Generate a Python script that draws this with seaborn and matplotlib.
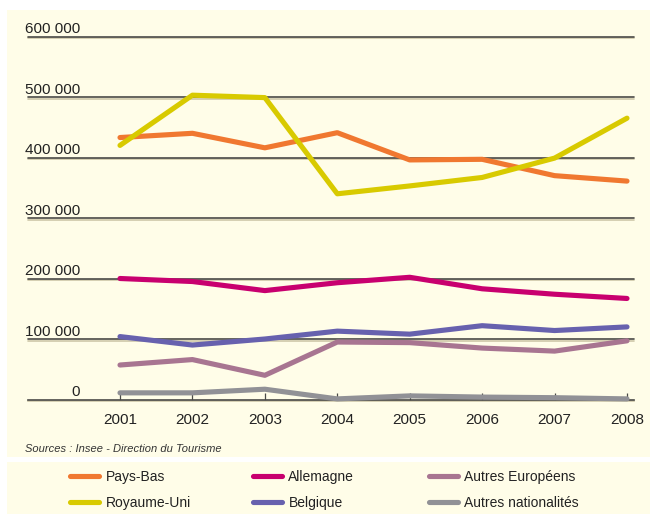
import numpy as np
import pandas as pd
import matplotlib
matplotlib.use("Agg")
import matplotlib.pyplot as plt
import matplotlib.patheffects as pe
from matplotlib.patches import Rectangle
import seaborn as sns

# ---------------- data ----------------
years = [2001, 2002, 2003, 2004, 2005, 2006, 2007, 2008]
series_names = ["Pays-Bas", "Royaume-Uni", "Allemagne", "Belgique",
                "Autres Européens", "Autres nationalités"]
pays_bas = [433000, 440000, 416000, 441000, 396000, 397000, 370000, 361000]
royaume_uni = [420000, 503000, 499000, 340000, 353000, 367000, 399000, 465000]
allemagne = [200000, 195000, 180000, 193000, 202000, 183000, 174000, 167000]
belgique = [104000, 90000, 100000, 113000, 108000, 122000, 114000, 120000]
autres_europeens = [57000, 66000, 40000, 95000, 94000, 85000, 80000, 97000]
autres_nationalites = [11000, 11000, 17000, 1000, 6000, 4000, 3000, 1000]
y_ticks = [0, 100000, 200000, 300000, 400000, 500000, 600000]
y_tick_labels = ["0", "100 000", "200 000", "300 000", "400 000", "500 000", "600 000"]
source_text = "Sources : Insee - Direction du Tourisme"

colors = {
    "Pays-Bas": "#F07830",
    "Royaume-Uni": "#D8CA00",
    "Allemagne": "#C8006F",
    "Belgique": "#6761AE",
    "Autres Européens": "#A87591",
    "Autres nationalités": "#919196",
}

values = [pays_bas, royaume_uni, allemagne, belgique, autres_europeens, autres_nationalites]
df = pd.DataFrame({
    "Année": np.tile(years, len(series_names)),
    "Nuitées": np.concatenate(values),
    "Nationalité": np.repeat(series_names, len(years)),
})

# ---------------- figure ----------------
sns.set_theme(style="white")
plt.rcParams["font.family"] = ["Liberation Sans", "DejaVu Sans"]

W, H = 650, 514
fig = plt.figure(figsize=(W / 100, H / 100), dpi=100)
fig.patch.set_facecolor("white")
cream = "#FFFDE8"


def panel(x0, y0, x1, y1):
    fig.patches.append(Rectangle((x0 / W, 1 - y1 / H), (x1 - x0) / W, (y1 - y0) / H,
                                 transform=fig.transFigure, facecolor=cream,
                                 edgecolor="none", zorder=-5))


panel(7, 10, 650, 457)
panel(7, 462, 650, 514)

ax_left, ax_right = 28, 634
y_zero, y_top_ax = 399.5, 30
ax = fig.add_axes([ax_left / W, 1 - y_zero / H, (ax_right - ax_left) / W, (y_zero - y_top_ax) / H])
ax.set_facecolor("none")
ax.set_zorder(2)

sns.lineplot(data=df, x="Année", y="Nuitées", hue="Nationalité",
             hue_order=series_names, palette=colors, linewidth=3.7,
             ax=ax, legend=True, zorder=3)
for ln in ax.lines:
    ln.set_solid_capstyle("round")
    ln.set_clip_on(False)

ax.set_ylim(0, 600000 * (y_zero - y_top_ax) / (y_zero - 36.5))
px_per_year = (627 - 120) / 7
ax.set_xlim(2001 - (120 - ax_left) / px_per_year, 2008 + (ax_right - 627) / px_per_year)

grid_col = "#4a4a47"
shadow = [pe.SimpleLineShadow(offset=(0, -1.2), shadow_color="#c9c2a2", alpha=0.9), pe.Normal()]
for v in y_ticks[1:]:
    ax.axhline(v, color=grid_col, lw=1.2, zorder=1, clip_on=False, path_effects=shadow)

for s in ["top", "right", "left"]:
    ax.spines[s].set_visible(False)
ax.spines["bottom"].set_color(grid_col)
ax.spines["bottom"].set_linewidth(1.2)
ax.spines["bottom"].set_path_effects(shadow)

ax.set_yticks([])
ax.set_xticks(years)
ax.set_xticklabels([str(y) for y in years], fontsize=11, color="#222222")
ax.tick_params(axis="x", direction="in", length=5, width=0.9, color=grid_col, pad=10, bottom=True)
ax.set_xlabel("")
ax.set_ylabel("")

ytrans = ax.get_yaxis_transform()
label_x = (80 - ax_left) / (ax_right - ax_left)
for v, lab in zip(y_ticks, y_tick_labels):
    ax.annotate(lab, xy=(label_x, v), xycoords=ytrans, xytext=(0, 2.4),
                textcoords="offset points", ha="right", va="baseline",
                fontsize=11, color="#222222", annotation_clip=False)

fig.text(25 / W, 1 - 452 / H, source_text, fontsize=8, style="italic",
         color="#333333", ha="left", va="baseline")

# ---------------- legends (3 columns) ----------------
handles, labels = ax.get_legend_handles_labels()
ax.get_legend().remove()
hmap = dict(zip(labels, handles))
columns = [(["Pays-Bas", "Royaume-Uni"], 70),
           (["Allemagne", "Belgique"], 253),
           (["Autres Européens", "Autres nationalités"], 429)]
for names, x0 in columns:
    hs = [hmap[n] for n in names]
    leg = fig.legend(hs, names, loc="center left", bbox_to_anchor=(x0 / W, 1 - 490 / H),
                     frameon=False, fontsize=10, handlelength=2.1, handletextpad=0.45,
                     labelspacing=0.85, borderpad=0, borderaxespad=0)
    for t in leg.get_texts():
        t.set_color("#222222")
    for l in leg.get_lines():
        l.set_linewidth(3.7)
        l.set_solid_capstyle("round")

fig.savefig("out.png", dpi=100, facecolor=fig.get_facecolor())
